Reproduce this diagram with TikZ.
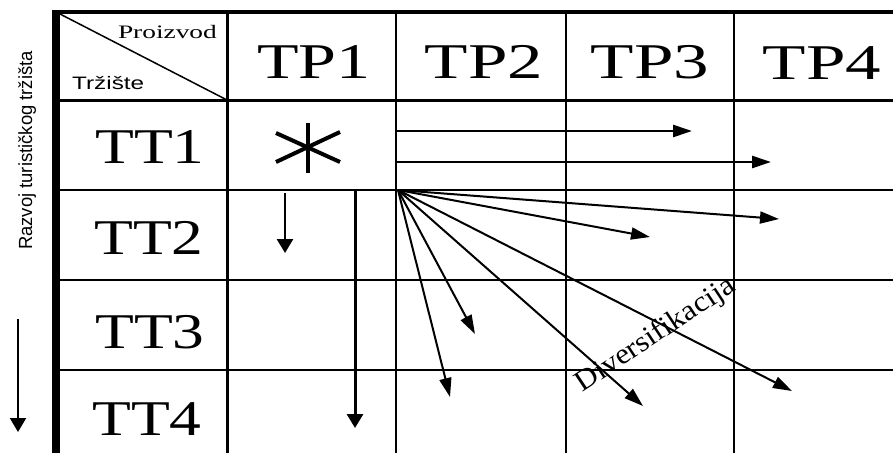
\documentclass[tikz,border=0pt]{standalone}
\usepackage{fontspec}
\setmainfont{Liberation Serif}
\newfontfamily\sansf{Liberation Sans}
\usetikzlibrary{arrows.meta}
\begin{document}
\begin{tikzpicture}[x=1pt,y=-1pt,
  big/.style={inner sep=0pt, anchor=base, font=\fontsize{50}{50}\selectfont},
  arr/.style={line width=2pt, -{Triangle[length=19pt,width=12pt]}},
  harr/.style={line width=2.6pt, -{Triangle[length=19pt,width=12pt]}},
  varr/.style={line width=2.6pt, -{Triangle[length=14pt,width=16pt]}},
  rowline/.style={line width=1.6pt},
]
\useasboundingbox (0,0) rectangle (893,453);
% grid
\draw[line width=4pt] (52,12) -- (893,12);
\draw[line width=3pt] (60,100) -- (893,100);
\foreach \yy in {190,280,370} \draw[rowline] (60,\yy) -- (893,\yy);
\draw[line width=3pt] (227,12) -- (227,453);
\draw[line width=2.5pt] (396,12) -- (396,453);
\draw[line width=2pt] (566,12) -- (566,453);
\draw[line width=2pt] (734,12) -- (734,453);
\draw[line width=8pt] (56,10) -- (56,453);
% header cell
\coordinate (d1) at (60,14);
\coordinate (d2) at (227,100);
\draw[line width=1.5pt] (d1) -- (d2);
\node[inner sep=0pt, anchor=base east, font=\fontsize{19}{19}\selectfont] (pz) at (217,38) {\scalebox{1.44}[1]{Proizvod}};
\node[inner sep=0pt, anchor=base west, font=\sansf\fontsize{18}{18}\selectfont] (tz) at (72,89) {\scalebox{1.35}[1]{Tržište}};
% column heads
\node[big] (tp1) at (314,78) {\scalebox{1.36}[1]{TP1}};
\node[big] (tp2) at (484,78) {\scalebox{1.42}[1]{TP2}};
\node[big] (tp3) at (650,78) {\scalebox{1.42}[1]{TP3}};
\node[big] (tp4) at (822,79) {\scalebox{1.42}[1]{TP4}};
% row heads
\node[big] (tt1) at (150,163) {\scalebox{1.27}[1]{TT1}};
\node[big] (tt2) at (149,254) {\scalebox{1.27}[1]{TT2}};
\node[big] (tt3) at (150,348) {\scalebox{1.27}[1]{TT3}};
\node[big] (tt4) at (147,435) {\scalebox{1.27}[1]{TT4}};
% asterisk
\coordinate (ast) at (308,148);
\draw[line width=4pt] ([yshift=-25pt]ast) -- ([yshift=25pt]ast);
\draw[line width=4pt] ([shift={(-32,14)}]ast) -- ([shift={(32,-16)}]ast);
\draw[line width=4pt] ([shift={(-32,-15)}]ast) -- ([shift={(32,14)}]ast);
% left label
\node[inner sep=0pt, rotate=90, anchor=base west, font=\sansf\fontsize{19}{19}\selectfont] (lbl) at (32,250) {\scalebox{0.97}[1]{Razvoj turističkog tržišta}};
\coordinate (ls) at (18,319);
\coordinate (le) at (18,432);
\draw[varr, line width=2pt] (ls) -- (le);
% horizontal arrows
\coordinate (h1s) at (396,131);
\coordinate (h1e) at (692,131);
\coordinate (h2s) at (396,162);
\coordinate (h2e) at (771,162);
\draw[harr] (h1s) -- (h1e);
\draw[harr] (h2s) -- (h2e);
% vertical arrows
\coordinate (v1s) at (285,193);
\coordinate (v1e) at (285,253);
\coordinate (v2s) at (355,191);
\coordinate (v2e) at (355,428);
\draw[varr] (v1s) -- (v1e);
\draw[varr, line width=3pt] (v2s) -- (v2e);
% fan
\coordinate (o) at (398,190);
\coordinate (e1) at (779,219);
\coordinate (e2) at (650,237);
\coordinate (e3) at (475,334);
\coordinate (e4) at (450,397);
\coordinate (e5) at (643,406);
\coordinate (e6) at (792,391);
\foreach \e in {e1,e2,e3,e4,e5,e6} \draw[arr] (o) -- (\e);
% label
\node[inner sep=0pt, rotate=33.6, anchor=base west, font=\fontsize{29}{29}\selectfont] (div) at (582,393) {\scalebox{1.08}[1]{Diversifikacija}};
\end{tikzpicture}
\end{document}
